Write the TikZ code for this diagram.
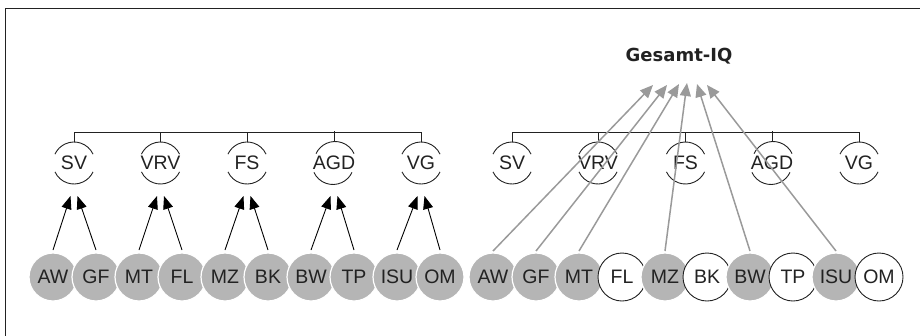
\documentclass[tikz,border=0pt]{standalone}
\usepackage{fontspec}
\setmainfont{Liberation Sans}
\newfontfamily\dejavu{DejaVu Sans}
\usetikzlibrary{arrows.meta,calc}
\definecolor{circgray}{HTML}{B5B5B5}
\definecolor{arrgray}{HTML}{9A9A9A}
\definecolor{ink}{HTML}{222222}
\begin{document}
\begin{tikzpicture}[x=1pt,y=-1pt,
  lbl/.style={font=\fontsize{19.5}{19.5}\selectfont, text=ink, inner sep=0pt},
  gcirc/.style={circle, minimum size=48pt, inner sep=0pt, outer sep=0pt, fill=circgray, draw=white, line width=1.2pt, lbl},
  wcirc/.style={circle, minimum size=48pt, inner sep=0pt, outer sep=0pt, fill=white, draw=ink, line width=0.9pt, lbl},
  factor/.style={circle, minimum size=42pt, inner sep=0pt, outer sep=0pt, lbl},
  arcline/.style={draw=ink, line width=0.9pt},
  bracket/.style={draw=ink, line width=0.9pt},
  blackarrow/.style={draw=black, line width=0.9pt, -{Triangle[length=13pt,width=10pt]}},
  grayarrow/.style={draw=arrgray, line width=1.5pt, -{Triangle[length=13pt,width=11pt]}},
  frameline/.style={draw=ink, line width=1pt}
]
\useasboundingbox (0,0) rectangle (920,335);
\draw[frameline] (5,345) -- (5,8) -- (930,8);

% ---------- left group: factor nodes ----------
\foreach \n/\x/\t in {1/74/SV,2/160.5/VRV,3/247/FS,4/334/AGD,5/421/VG}{
  \node[factor] (lf\n) at (\x,163) {\t};
  \draw[arcline] (lf\n.25) arc[start angle=25,end angle=155,radius=21pt];
  \draw[arcline] (lf\n.205) arc[start angle=205,end angle=335,radius=21pt];
  \draw[bracket] (lf\n.north) -- ++(0,-10);
}
\draw[bracket] ([yshift=10pt]lf1.north) -- ([yshift=10pt]lf5.north);

% ---------- right group: factor nodes ----------
\foreach \n/\x/\t in {1/512/SV,2/598/VRV,3/685.5/FS,4/772/AGD,5/859/VG}{
  \node[factor] (rf\n) at (\x,163) {\t};
  \draw[arcline] (rf\n.25) arc[start angle=25,end angle=155,radius=21pt];
  \draw[arcline] (rf\n.205) arc[start angle=205,end angle=335,radius=21pt];
  \draw[bracket] (rf\n.north) -- ++(0,-10);
}
\draw[bracket] ([yshift=10pt]rf1.north) -- ([yshift=10pt]rf5.north);

% ---------- left group: subtests ----------
\node[gcirc] (lAW)  at (53,277)  {AW};
\node[gcirc] (lGF)  at (96,277)  {GF};
\node[gcirc] (lMT)  at (139,277) {MT};
\node[gcirc] (lFL)  at (182,277) {FL};
\node[gcirc] (lMZ)  at (225,277) {MZ};
\node[gcirc] (lBK)  at (268,277) {BK};
\node[gcirc] (lBW)  at (311,277) {BW};
\node[gcirc] (lTP)  at (354,277) {TP};
\node[gcirc] (lISU) at (397,277) {ISU};
\node[gcirc] (lOM)  at (440,277) {OM};

% ---------- right group: subtests ----------
\node[gcirc] (rAW)  at (493,277) {AW};
\node[gcirc] (rGF)  at (536,277) {GF};
\node[gcirc] (rMT)  at (579,277) {MT};
\node[wcirc] (rFL)  at (622,277) {FL};
\node[gcirc] (rMZ)  at (665,277) {MZ};
\node[wcirc] (rBK)  at (707,277) {BK};
\node[gcirc] (rBW)  at (750,277) {BW};
\node[wcirc] (rTP)  at (793,277) {TP};
\node[gcirc] (rISU) at (836,277) {ISU};
\node[wcirc] (rOM)  at (879,277) {OM};

% ---------- left arrows ----------
\foreach \a/\b/\f in {AW/GF/1,MT/FL/2,MZ/BK/3,BW/TP/4,ISU/OM/5}{
  \draw[blackarrow] ([yshift=3pt]l\a.north) -- ($(lf\f.center)+(-3.5,33)$);
  \draw[blackarrow] ([yshift=3pt]l\b.north) -- ($(lf\f.center)+(3.5,33)$);
}

% ---------- Gesamt-IQ ----------
\node[inner sep=0pt, text=ink, font=\dejavu\bfseries\fontsize{18}{18}\selectfont] (G) at (679,56) {Gesamt-IQ};

\draw[grayarrow] ([yshift=2pt]rAW.north)  -- ($(G.center)+(-26,29)$);
\draw[grayarrow] ([yshift=2pt]rGF.north)  -- ($(G.center)+(-12,29)$);
\draw[grayarrow] ([yshift=2pt]rMT.north)  -- ($(G.center)+(0,28)$);
\draw[grayarrow] ([yshift=2pt]rMZ.north)  -- ($(G.center)+(8,27)$);
\draw[grayarrow] ([yshift=2pt]rBW.north)  -- ($(G.center)+(18,28)$);
\draw[grayarrow] ([yshift=2pt]rISU.north) -- ($(G.center)+(28,29)$);
\end{tikzpicture}
\end{document}
